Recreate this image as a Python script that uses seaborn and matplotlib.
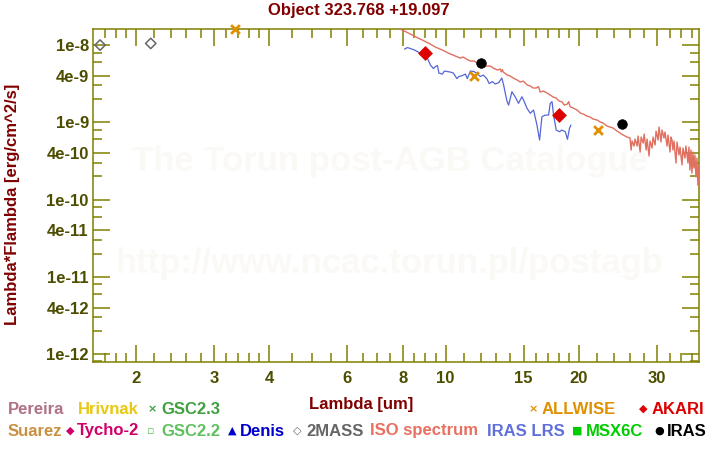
import matplotlib
matplotlib.use("Agg")
import matplotlib.pyplot as plt
import seaborn as sns
import numpy as np
import pandas as pd
from matplotlib.ticker import FixedLocator, NullFormatter

# ---------------- data ----------------
iso_wl = [7.785, 7.990, 8.243, 8.548, 8.864, 9.145, 9.482, 9.831, 10.14, 10.52,
          10.79, 10.96, 11.14, 11.37, 11.61, 11.79, 11.97, 12.16, 12.35, 12.61,
          12.81, 13.08, 13.28, 13.35, 13.42, 13.49, 13.78, 13.99, 14.21, 14.51,
          14.74, 14.97, 15.28, 15.52, 15.76, 16.01, 16.2, 16.35, 16.61, 16.95,
          17.22, 17.49, 17.76, 18.04, 18.32, 18.52, 18.81, 18.95, 19.10, 19.40,
          19.81, 20.12, 20.43, 20.86, 21.19, 21.52, 21.97, 22.31, 22.66, 23.13,
          23.50, 23.87, 24.37, 24.75, 25.15, 25.67,
          26.07, 26.21, 26.35, 26.62, 26.76, 27.04, 27.18, 27.47, 27.61, 27.90,
          28.05, 28.34, 28.48, 28.77, 28.92, 29.23, 29.38, 29.69, 29.84, 30.15,
          30.30, 30.62, 30.78, 31.10, 31.26, 31.59, 31.75, 32.08, 32.25, 32.42,
          32.58, 32.75, 33.10, 33.27, 33.62, 33.80, 34.15, 34.32, 34.67, 34.85,
          35.22, 35.40, 35.59, 35.77, 35.96, 36.14, 36.33, 36.52, 36.71, 36.90,
          37.09, 37.29, 37.40]
iso_flux = [1.66e-8, 1.56e-8, 1.43e-8, 1.28e-8, 1.16e-8, 1.06e-8, 9.42e-9, 8.62e-9, 7.88e-9, 7.20e-9,
            6.79e-9, 7.00e-9, 6.59e-9, 6.21e-9, 6.21e-9, 5.85e-9, 5.68e-9, 5.85e-9, 5.35e-9, 5.35e-9,
            5.04e-9, 4.75e-9, 4.89e-9, 4.50e-9, 4.80e-9, 4.47e-9, 4.09e-9, 3.97e-9, 3.74e-9, 3.52e-9,
            3.32e-9, 3.42e-9, 3.04e-9, 2.95e-9, 2.78e-9, 2.78e-9, 2.90e-9, 2.46e-9, 2.54e-9, 2.39e-9,
            2.25e-9, 2.12e-9, 2.06e-9, 1.88e-9, 1.83e-9, 1.67e-9, 1.72e-9, 1.85e-9, 1.58e-9, 1.53e-9,
            1.44e-9, 1.32e-9, 1.28e-9, 1.20e-9, 1.17e-9, 1.10e-9, 1.07e-9, 1.01e-9, 9.78e-10, 8.94e-10,
            8.68e-10, 8.43e-10, 7.70e-10, 7.26e-10, 6.84e-10, 6.44e-10,
            6.25e-10, 4.37e-10, 5.72e-10, 4.93e-10, 6.07e-10, 4.93e-10, 6.64e-10, 4.12e-10, 6.44e-10, 5.39e-10,
            7.05e-10, 4.37e-10, 6.07e-10, 3.66e-10, 5.72e-10, 4.64e-10, 6.44e-10, 5.08e-10, 7.70e-10, 5.89e-10,
            8.68e-10, 5.55e-10, 7.94e-10, 6.25e-10, 7.48e-10, 4.93e-10, 6.84e-10, 4.12e-10, 6.44e-10, 5.89e-10,
            4.37e-10, 5.72e-10, 2.97e-10, 5.55e-10, 3.77e-10, 4.78e-10, 2.80e-10, 4.64e-10, 3.44e-10, 4.93e-10,
            2.97e-10, 4.78e-10, 2.41e-10, 4.37e-10, 2.20e-10, 4.12e-10, 2.56e-10, 3.77e-10, 1.96e-10, 3.44e-10,
            1.54e-10, 2.80e-10, 1.41e-10]

lrs_wl = [8.073, 8.200, 8.328, 8.504, 8.682, 8.911, 9.099, 9.240, 9.384, 9.482,
          9.580, 9.654, 9.831, 9.934, 10.09, 10.25, 10.41, 10.60, 10.71, 10.91,
          11.08, 11.19, 11.37, 11.58, 11.79, 11.97, 12.16, 12.38, 12.54, 12.74,
          12.94, 13.18, 13.39, 13.53, 13.63, 13.75, 13.87, 14.11, 14.36, 14.60,
          14.86, 14.99, 15.26, 15.52, 15.79, 16.07, 16.29, 16.49, 16.78, 17.07,
          17.22, 17.38, 17.52, 17.76, 18.07, 18.30, 18.62, 18.83, 19.03, 19.17]
lrs_flux = [8.87e-9, 9.28e-9, 9.01e-9, 8.62e-9, 8.11e-9, 7.10e-9, 6.69e-9, 5.51e-9, 4.96e-9, 5.27e-9,
            5.43e-9, 4.34e-9, 4.21e-9, 4.61e-9, 4.54e-9, 4.47e-9, 4.34e-9, 3.68e-9, 3.91e-9, 4.03e-9,
            4.21e-9, 3.68e-9, 4.61e-9, 4.54e-9, 4.28e-9, 3.91e-9, 4.09e-9, 3.68e-9, 3.17e-9, 3.37e-9,
            3.13e-9, 3.27e-9, 3.74e-9, 2.95e-9, 2.39e-9, 1.88e-9, 1.67e-9, 2.49e-9, 2.12e-9, 1.76e-9,
            2.14e-9, 1.94e-9, 1.52e-9, 1.31e-9, 1.44e-9, 9.21e-10, 5.89e-10, 1.18e-9, 1.24e-9, 1.24e-9,
            1.76e-9, 1.85e-9, 1.24e-9, 7.94e-10, 7.54e-10, 7.94e-10, 7.54e-10, 6.02e-10, 8.35e-10, 9.21e-10]

twomass_wl = [1.66, 2.16]
twomass_flux = [1.0e-8, 1.05e-8]
allwise_wl = [3.35, 11.6, 22.1]
allwise_flux = [1.62e-8, 3.92e-9, 7.85e-10]
akari_wl = [9.0, 18.05]
akari_flux = [7.85e-9, 1.23e-9]
iras_wl = [12.0, 25.0]
iras_flux = [5.8e-9, 9.4e-10]

x_major = [2, 3, 4, 6, 8, 10, 15, 20, 30]
x_labels = ["2", "3", "4", "6", "8", "10", "15", "20", "30"]
x_minor = [1.7, 1.8, 1.9, 2.2, 2.4, 2.6, 2.8, 3.2, 3.4, 3.6, 3.8, 4.5, 5, 5.5,
           6.5, 7, 7.5, 8.5, 9, 9.5, 11, 12, 13, 14, 16, 17, 18, 19, 22, 24, 26, 28,
           32, 34, 36]
y_major = [1e-12, 4e-12, 1e-11, 4e-11, 1e-10, 4e-10, 1e-9, 4e-9, 1e-8]
y_labels = ["1e-12", "4e-12", "1e-11", "4e-11", "1e-10", "4e-10", "1e-9", "4e-9", "1e-8"]
y_minor = [m * 10.0 ** e for e in range(-13, -7) for m in (2, 3, 6, 8)]

title = "Object 323.768 +19.097"
xlabel = "Lambda [um]"
ylabel = "Lambda*Flambda [erg/cm^2/s]"

# ---------------- style ----------------
sns.set_style("ticks")
plt.rcParams['font.family'] = ['Liberation Sans', 'DejaVu Sans']
plt.rcParams['font.weight'] = 'bold'
for a in ('xtick', 'ytick'):
    plt.rcParams[a + '.direction'] = 'in'
plt.rcParams['xtick.top'] = True
plt.rcParams['xtick.bottom'] = True
plt.rcParams['ytick.left'] = True
plt.rcParams['ytick.right'] = True

OLIVE = '#808000'
TICKTXT = '#4d4d00'
DARKRED = '#800000'

fig = plt.figure(figsize=(7.2, 4.5), dpi=100)
W, H = 720, 450
ax = fig.add_axes([93 / W, 1 - 361.7 / H, (699 - 93) / W, (361.7 - 29.3) / H])
ax.set_xscale('log')
ax.set_yscale('log')

iso_df = pd.DataFrame({'wl': iso_wl, 'flux': iso_flux})
lrs_df = pd.DataFrame({'wl': lrs_wl, 'flux': lrs_flux})
sns.lineplot(data=iso_df, x='wl', y='flux', ax=ax, color='#e07060', lw=1.0,
             sort=False, estimator=None, zorder=3)
sns.lineplot(data=lrs_df, x='wl', y='flux', ax=ax, color='#5566d6', lw=0.9,
             sort=False, estimator=None, zorder=2)

sns.scatterplot(x=twomass_wl, y=twomass_flux, ax=ax, marker='D', s=28,
                facecolor='none', edgecolor='#666666', linewidth=1.1, zorder=4)
sns.scatterplot(x=allwise_wl, y=allwise_flux, ax=ax, marker='x', s=40,
                color='#e09000', linewidth=2.0, zorder=4, clip_on=False)
sns.scatterplot(x=akari_wl, y=akari_flux, ax=ax, marker='D', s=50,
                color='#dd0000', edgecolor='#dd0000', linewidth=0.5, zorder=5)
sns.scatterplot(x=iras_wl, y=iras_flux, ax=ax, marker='o', s=48,
                color='black', edgecolor='black', linewidth=0.5, zorder=5)

ax.set_xticks(x_major, x_labels)
ax.xaxis.set_minor_locator(FixedLocator(x_minor))
ax.xaxis.set_minor_formatter(NullFormatter())
ax.set_yticks(y_major, y_labels)
ax.yaxis.set_minor_locator(FixedLocator(y_minor))
ax.yaxis.set_minor_formatter(NullFormatter())
ax.set_xlim(1.6, 37.3)
ax.set_ylim(7.95e-13, 1.6e-8)

ax.tick_params(which='both', direction='in', top=True, right=True, bottom=True, left=True,
               color=OLIVE, width=1.1)
ax.tick_params(which='major', length=12.5)
ax.tick_params(which='minor', length=6.2)
ax.tick_params(axis='x', which='major', pad=7, labelsize=12, labelcolor=TICKTXT)
ax.tick_params(axis='y', which='major', pad=3, labelsize=12, labelcolor=TICKTXT)
for lab in ax.get_xticklabels() + ax.get_yticklabels():
    lab.set_fontweight('bold')
for sp in ax.spines.values():
    sp.set_visible(True)
    sp.set_color(OLIVE)
    sp.set_linewidth(1.1)
ax.set_xlabel('')
ax.set_ylabel('')

# watermark
ax.text(390 / W, 1 - 161.5 / H, "The Torun post-AGB Catalogue", transform=fig.transFigure,
        ha='center', va='center', fontsize=25, color='#fbf9f5', fontweight='bold', zorder=0)
ax.text(390 / W, 1 - 263 / H, "http://www.ncac.torun.pl/postagb", transform=fig.transFigure,
        ha='center', va='center', fontsize=25, color='#fbf9f5', fontweight='bold', zorder=0)

# titles
fig.text(359 / W, 1 - 11 / H, title, ha='center', va='center', fontsize=12,
         color=DARKRED, fontweight='bold')
fig.text(13 / W, 1 - 204 / H, ylabel, ha='center', va='center', rotation=90,
         fontsize=12, color=DARKRED, fontweight='bold')
fig.text(361 / W, 1 - 404 / H, xlabel, ha='center', va='center', fontsize=12,
         color=DARKRED, fontweight='bold')

# legend (text-based, as in the original)
legend_text = [
    ("Pereira", '#b07088', 8, 409), ("Hrivnak", '#e8c810', 78, 409),
    ("GSC2.3", '#40a040', 161, 409), ("ALLWISE", '#e09000', 542, 409),
    ("AKARI", '#dd0000', 652, 409),
    ("Suarez", '#c89040', 8, 431), ("Tycho-2", '#d0006a', 77, 431),
    ("GSC2.2", '#60c060', 161, 431), ("Denis", '#0000cc', 240, 431),
    ("2MASS", '#666666', 306, 431), ("ISO spectrum", '#e87060', 370, 431),
    ("IRAS LRS", '#6070d8', 487, 431), ("MSX6C", '#00cc00', 586, 431),
    ("IRAS", '#000000', 667, 431),
]
legend_glyph = [
    ("\u00d7", '#40a040', 152, 409), ("\u00d7", '#e09000', 533, 409),
    ("\u25c6", '#dd0000', 643, 409), ("\u25c6", '#d0006a', 70, 431),
    ("\u25ab", '#60c060', 151, 431), ("\u25b2", '#0000cc', 232, 431),
    ("\u25c7", '#666666', 297, 431), ("\u25a0", '#00cc00', 577, 431),
    ("\u25cf", '#000000', 659, 431),
]
for t, c, x, y in legend_text:
    fig.text(x / W, 1 - y / H, t, ha='left', va='center', fontsize=12,
             color=c, fontweight='bold')
for t, c, x, y in legend_glyph:
    fig.text(x / W, 1 - y / H, t, ha='center', va='center', fontsize=8,
             color=c, family=['DejaVu Sans'])

fig.savefig('out.png', dpi=100, facecolor='white')
